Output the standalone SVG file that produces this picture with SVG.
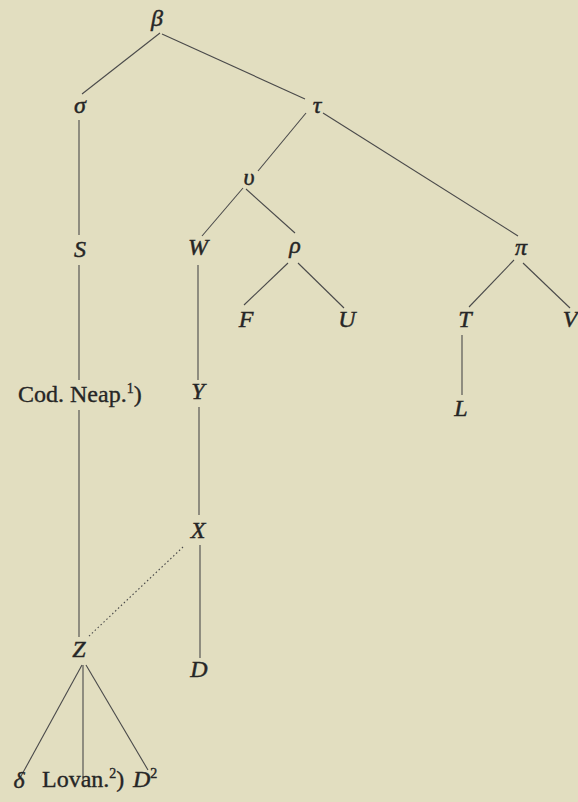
<svg xmlns="http://www.w3.org/2000/svg" width="578" height="802" viewBox="0 0 578 802">
<style>
.bg{fill:#e2dec0}
.n{font-family:'Liberation Serif','DejaVu Serif','Times New Roman',serif;font-style:italic;font-size:24px;fill:#262626;stroke:#262626;stroke-width:0.45;text-anchor:middle}
.r{font-family:'Liberation Serif','DejaVu Serif','Times New Roman',serif;font-size:24px;fill:#262626;stroke:#262626;stroke-width:0.35}
.sup{font-size:14px}
.e{stroke:#4a4a4a;stroke-width:1.1;fill:none}
.d{stroke:#4a4a4a;stroke-width:1.1;fill:none;stroke-dasharray:1.5 2.5}
</style>
<rect class="bg" x="0" y="0" width="578" height="802"/>
<g id="connectors">
<line class="e" x1="160" y1="33" x2="82" y2="94"/>
<line class="e" x1="162" y1="34" x2="305" y2="99"/>
<line class="e" x1="323" y1="113" x2="518" y2="236"/>
<line class="e" x1="306" y1="113" x2="258" y2="171"/>
<line class="e" x1="243" y1="188" x2="202" y2="236"/>
<line class="e" x1="246" y1="189" x2="295" y2="233"/>
<line class="e" x1="288" y1="263" x2="244" y2="305"/>
<line class="e" x1="298" y1="263" x2="344" y2="308"/>
<line class="e" x1="514" y1="260" x2="469" y2="307"/>
<line class="e" x1="523" y1="263" x2="570" y2="308"/>
<line class="e" x1="462" y1="335" x2="462" y2="395"/>
<line class="e" x1="79" y1="120" x2="79" y2="235"/>
<line class="e" x1="79" y1="265" x2="79" y2="380"/>
<line class="e" x1="79" y1="410" x2="79" y2="637"/>
<line class="e" x1="198" y1="265" x2="198" y2="380"/>
<line class="e" x1="199" y1="407" x2="199" y2="515"/>
<line class="e" x1="200" y1="545" x2="200" y2="658"/>
<line class="d" x1="183" y1="547" x2="88" y2="637"/>
<line class="e" x1="82" y1="665" x2="20" y2="778"/>
<line class="e" x1="83" y1="665" x2="83" y2="780"/>
<line class="e" x1="86" y1="665" x2="148" y2="770"/>
</g>
<g id="beta"><text class="n" x="157" y="26">β</text></g>
<g id="sigma"><text class="n" x="80" y="113">σ</text></g>
<g id="tau"><text class="n" x="317" y="113">τ</text></g>
<g id="upsilon"><text class="n" x="249" y="185">υ</text></g>
<g id="S"><text class="n" x="80" y="257">S</text></g>
<g id="W"><text class="n" x="198" y="255">W</text></g>
<g id="rho"><text class="n" x="295" y="253">ρ</text></g>
<g id="pi"><text class="n" x="521" y="255">π</text></g>
<g id="F"><text class="n" x="246" y="327">F</text></g>
<g id="U"><text class="n" x="347" y="327">U</text></g>
<g id="T"><text class="n" x="465" y="327">T</text></g>
<g id="V"><text class="n" x="570" y="327">V</text></g>
<g id="L"><text class="n" x="461" y="416">L</text></g>
<g id="CodNeap"><text class="r" x="18" y="402">Cod. Neap.<tspan class="sup" dy="-9">1</tspan><tspan dy="9">)</tspan></text></g>
<g id="Y"><text class="n" x="198" y="399">Y</text></g>
<g id="X"><text class="n" x="198" y="538">X</text></g>
<g id="Z"><text class="n" x="79" y="657">Z</text></g>
<g id="D"><text class="n" x="199" y="677">D</text></g>
<g id="delta"><text class="n" x="19" y="788">δ</text></g>
<g id="Lovan"><text class="r" x="42" y="787">Lovan.<tspan class="sup" dy="-9">2</tspan><tspan dy="9">)</tspan></text></g>
<g id="D2"><text class="n" x="133" y="787" style="text-anchor:start">D<tspan class="sup" style="font-style:normal" dy="-9">2</tspan></text></g>
</svg>
